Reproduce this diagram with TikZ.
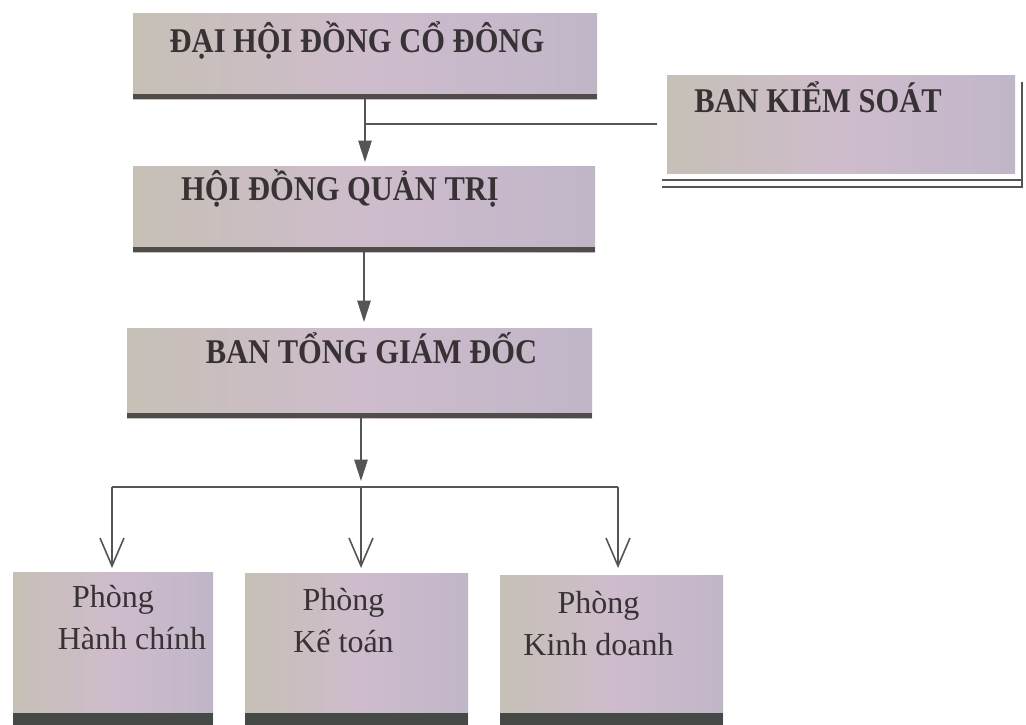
\documentclass[tikz,border=0pt]{standalone}
\usepackage{fontspec}
\setmainfont{Liberation Serif}
\newfontfamily\hfont{Liberation Serif}[FakeStretch=0.88]
\usetikzlibrary{arrows.meta}
\definecolor{boxL}{RGB}{198,192,182}
\definecolor{boxM}{RGB}{206,188,204}
\definecolor{boxR}{RGB}{192,182,200}
\definecolor{stripc}{RGB}{80,76,74}
\definecolor{stripb}{RGB}{70,74,70}
\definecolor{txt}{RGB}{55,50,52}
\definecolor{connc}{RGB}{85,85,85}
\begin{document}
\begin{tikzpicture}[x=0.75pt,y=-0.75pt,
  boxbase/.style={rectangle, inner sep=0pt, outer sep=0pt,
    left color=boxL, right color=boxR, middle color=boxM, text=txt},
  headfont/.style={font=\hfont\bfseries\fontsize{26pt}{30pt}\selectfont},
  topbox/.style={boxbase, headfont,
    path picture={\fill[stripc] (path picture bounding box.south west)
      rectangle ([yshift=3.5pt]path picture bounding box.south east);}},
  sidebox/.style={boxbase, headfont},
  deptbox/.style={boxbase, font=\fontsize{24pt}{31.5pt}\selectfont,
    path picture={\fill[stripb] (path picture bounding box.south west)
      rectangle ([yshift=9pt]path picture bounding box.south east);}},
  line/.style={draw=connc, line width=1.2pt},
  farrow/.style={line, -{Triangle[length=16pt,width=10pt]}},
  oarrow/.style={line, -{Straight Barb[length=21pt,width=18pt]}}
]
\fill[white] (0,0) rectangle (1026,725);
\useasboundingbox (0,0) rectangle (1026,725);

% top-level boxes
\node[topbox, minimum width=348pt, text height=29.25pt, text depth=35.25pt]
  (b1) at (365,56) {ĐẠI HỘI ĐỒNG CỔ ĐÔNG\kern12pt};
\node[sidebox, minimum width=261pt, text height=27.75pt, text depth=45.75pt]
  (bks) at (841,124) {BAN KIỂM SOÁT\kern34.5pt};
\node[topbox, minimum width=346.5pt, text height=25.5pt, text depth=39pt]
  (b2) at (364,209) {HỘI ĐỒNG QUẢN TRỊ\kern36pt};
\node[topbox, minimum width=348.75pt, text height=26.25pt, text depth=41.25pt]
  (b3) at (359.5,373) {\kern18pt BAN TỔNG GIÁM ĐỐC};

% departments
\node[deptbox] (pa) at (113,648.5)
  {\parbox[c][114.75pt][t]{150pt}{\centering\rule{0pt}{26.25pt}Phòng\\\hspace*{28.5pt}Hành chính}};
\node[deptbox] (pb) at (356.5,649)
  {\parbox[c][114pt][t]{167.25pt}{\centering\rule{0pt}{27.75pt}Phòng\kern19.5pt\\Kế toán\kern19.5pt}};
\node[deptbox] (pc) at (611.5,650)
  {\parbox[c][112.5pt][t]{167.25pt}{\centering\rule{0pt}{28.5pt}Phòng\kern19.5pt\\Kinh doanh\kern19.5pt}};

% double rule under Ban Kiem Soat
\draw[line, line width=1pt] ([shift={(-3.75pt,-5.25pt)}]bks.south west) -- ([shift={(5.25pt,-5.25pt)}]bks.south east);
\draw[line, line width=1pt] ([shift={(-3.75pt,-10.5pt)}]bks.south west) -- ([shift={(5.25pt,-10.5pt)}]bks.south east)
  -- ([shift={(5.25pt,-5.25pt)}]bks.north east);

% connectors
\draw[farrow, shorten >=3pt] (b1.south) -- (b1.south |- b2.north);
\draw[line] (b1.south |- bks.west) -- ([xshift=-7.5pt]bks.west);
\draw[farrow, shorten >=4.5pt] (b2.south) -- (b2.south |- b3.north);

\coordinate (dA) at (112,487);
\coordinate (dB) at (361,487);
\coordinate (dC) at (618,487);
\draw[farrow, shorten >=4.5pt] (b3.south -| dB) -- (dB);
\draw[line] (dA) -- (dC);
\draw[oarrow, shorten >=3pt] (dA) -- (dA |- pa.north);
\draw[oarrow, shorten >=3.75pt] (dB) -- (dB |- pb.north);
\draw[oarrow, shorten >=5.25pt] (dC) -- (dC |- pc.north);
\end{tikzpicture}
\end{document}
